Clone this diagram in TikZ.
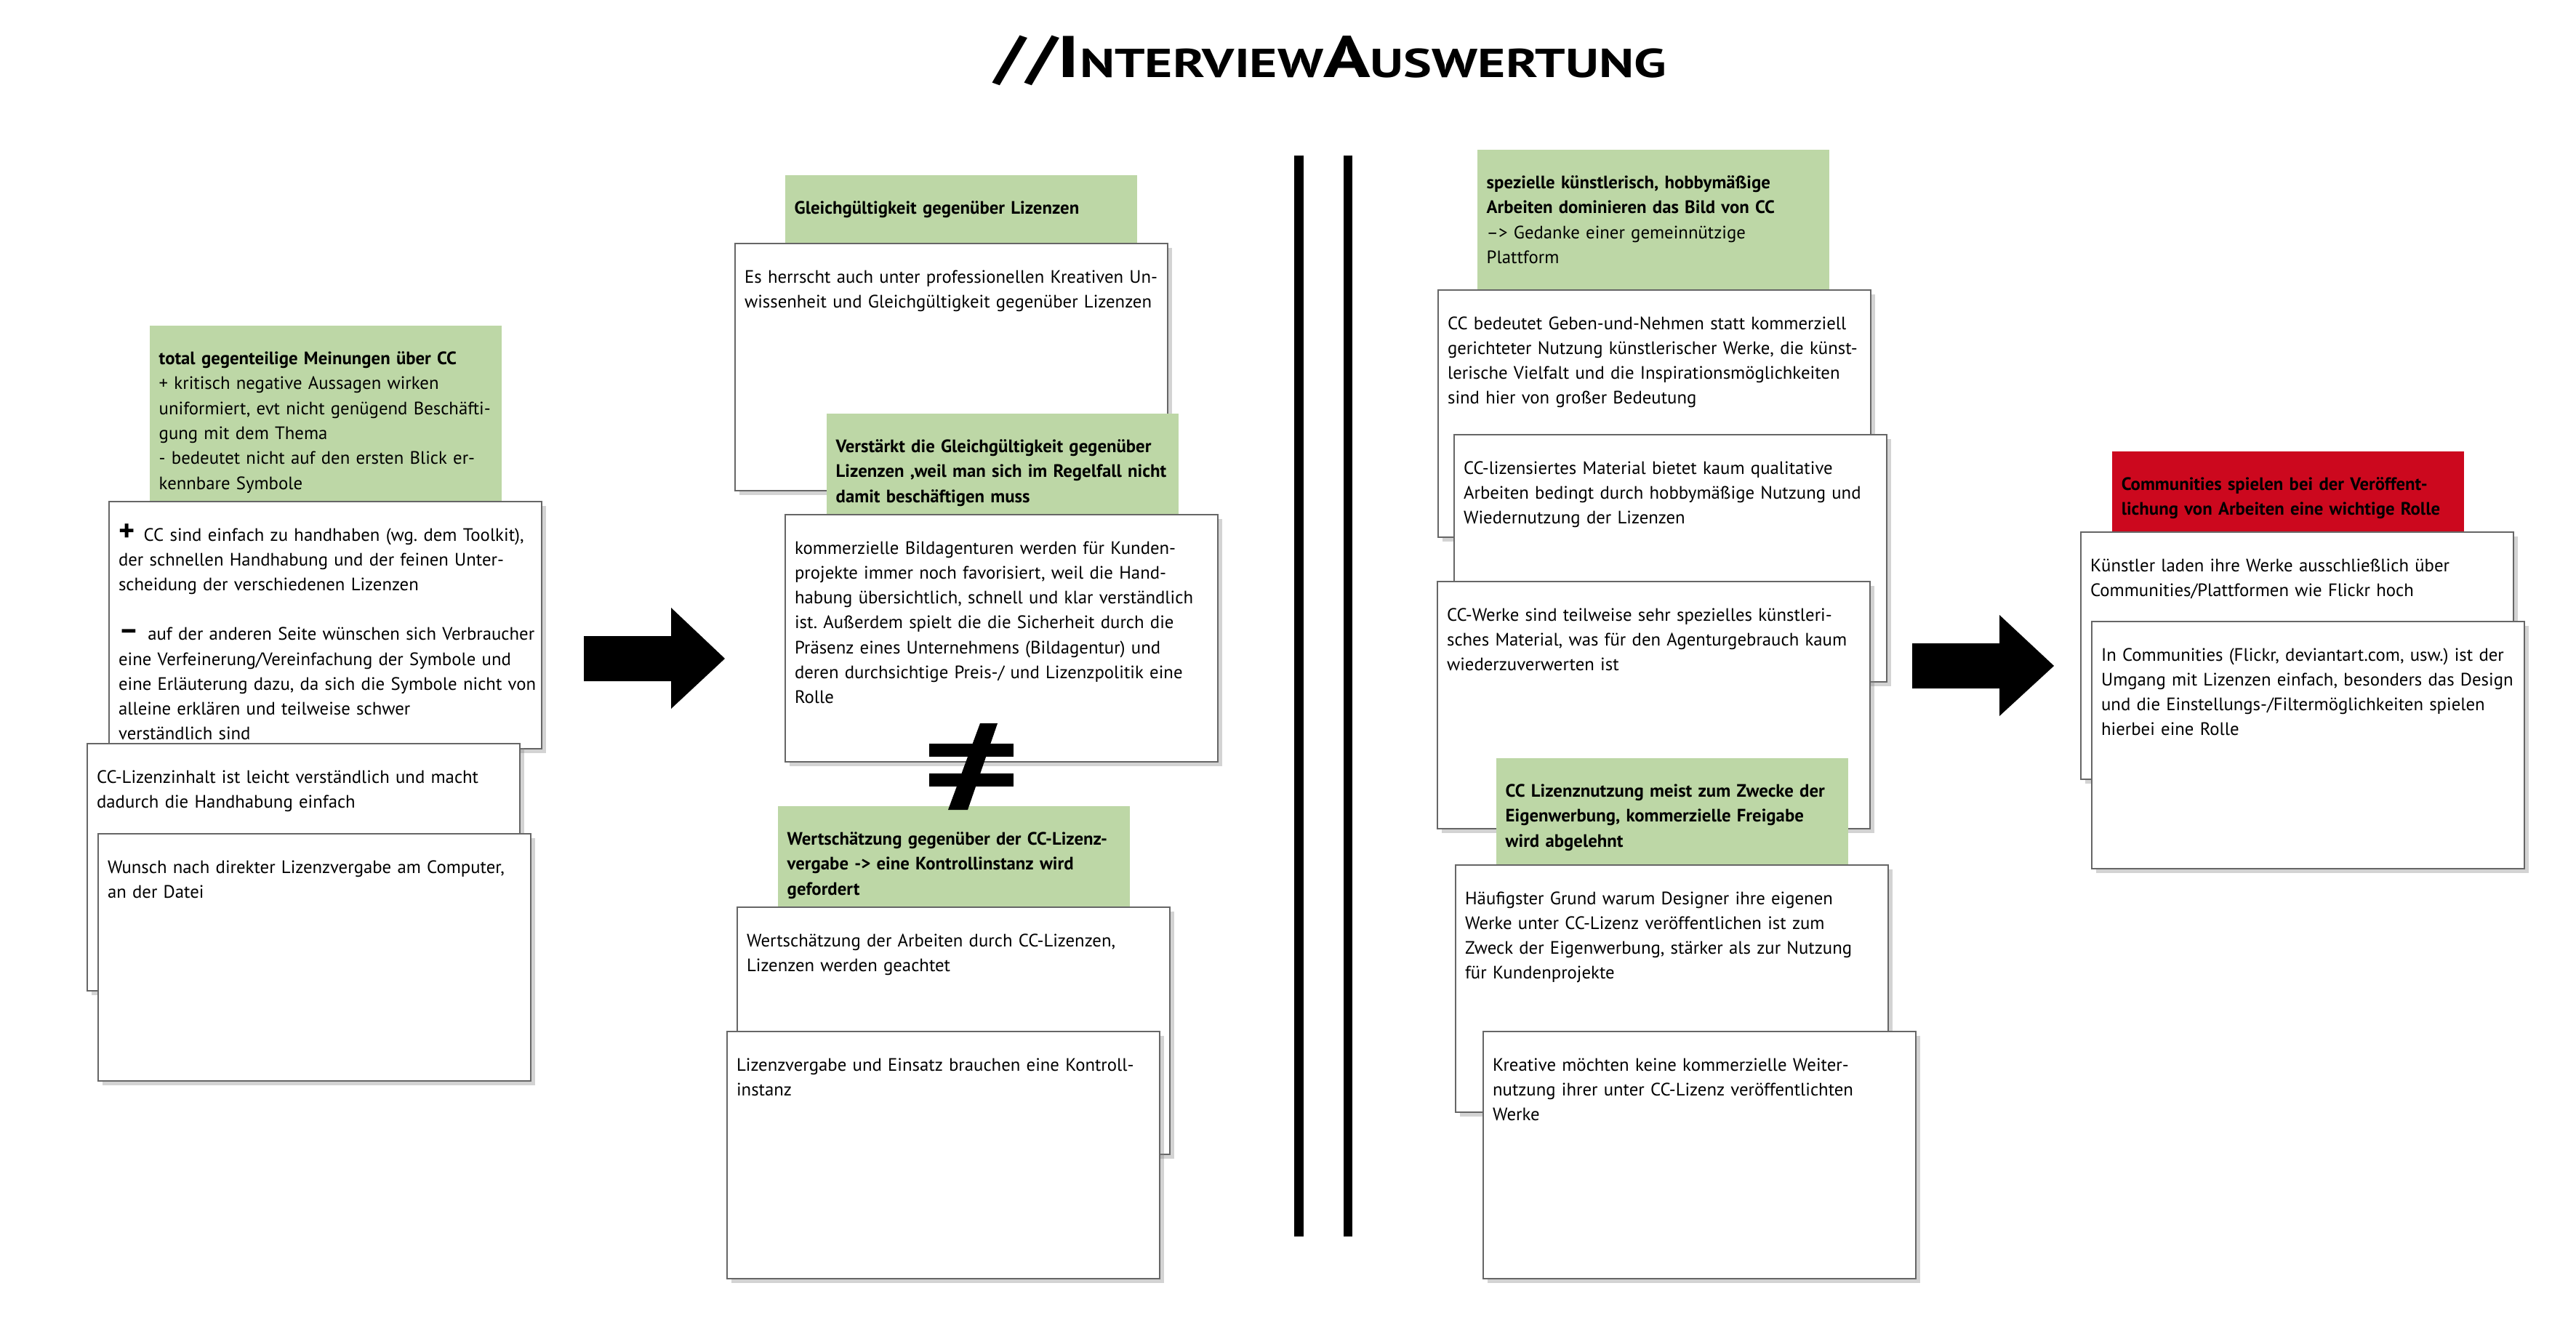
\documentclass[tikz,border=0pt]{standalone}
\usepackage{fontspec}
\setmainfont{PT Sans}
\usetikzlibrary{shadows}
\definecolor{gruenton}{RGB}{189,215,166}
\definecolor{rotton}{RGB}{204,8,30}
\frenchspacing
\newcommand{\kartenfont}{\fontsize{7.05}{9.75}\selectfont}
\newcommand{\zeilen}[1]{\begin{tabular}[t]{@{}l@{}}#1\end{tabular}}
\newcommand{\grossplus}{\smash{\textbf{\fontsize{12}{0}\selectfont +}}\enspace}
\newcommand{\grossminus}{\smash{\textbf{\fontsize{12}{0}\selectfont –}}\enspace}
\tikzset{karte/.style={anchor=north west,rectangle,draw=black!60,line width=0.6pt,
fill=white,drop shadow={shadow xshift=0.06cm,shadow yshift=-0.06cm,opacity=0.35},
text width=5.69cm,inner xsep=0.13cm,inner ysep=0.25cm,
text height=0.29cm,text depth=2.61cm,align=left,font=\kartenfont},
gruen/.style={anchor=north west,rectangle,fill=gruenton,
text width=4.58cm,inner xsep=0.13cm,inner ysep=0.25cm,
text height=0.29cm,text depth=#1,align=left,font=\kartenfont},
rot/.style={gruen=#1,fill=rotton},
balken/.style={line width=1.25mm}}

\begin{document}
\begin{tikzpicture}
\useasboundingbox (0,0) rectangle (35.43,-18.31);
% Titel
\node[anchor=base west,inner sep=0pt,font=\bfseries] (titel) at (13.67,-1.07)
 {\scalebox{1.32}[1]{\fontsize{23}{23}\selectfont //I\fontsize{15.8}{23}\selectfont NTERVIEW\fontsize{23}{23}\selectfont A\fontsize{15.8}{23}\selectfont USWERTUNG}};

% linke Spalte
\node[gruen=1.63cm] (meinung) at (2.05,-4.47) {\zeilen{\textbf{total gegenteilige Meinungen über CC}\\
+ kritisch negative Aussagen wirken\\
uniformiert, evt nicht genügend Beschäfti-\\
gung mit dem Thema\\
- bedeutet nicht auf den ersten Blick er-\\
kennbare Symbole}};
\node[karte] (handhaben) at (1.49,-6.89) {\zeilen{\grossplus CC sind einfach zu handhaben (wg. dem Toolkit),\\
der schnellen Handhabung und der feinen Unter-\\
scheidung der verschiedenen Lizenzen\\[0.34cm]
\grossminus auf der anderen Seite wünschen sich Verbraucher\\
eine Verfeinerung/Vereinfachung der Symbole und\\
eine Erläuterung dazu, da sich die Symbole nicht von\\
alleine erklären und teilweise schwer\\
verständlich sind}};
\node[karte] (inhalt) at (1.19,-10.22) {\zeilen{CC-Lizenzinhalt ist leicht verständlich und macht\\
dadurch die Handhabung einfach}};
\node[karte] (wunsch) at (1.34,-11.46) {\zeilen{Wunsch nach direkter Lizenzvergabe am Computer,\\
an der Datei}};

% Pfeil 1
\fill (8.03,-8.75) -- (9.23,-8.75) -- (9.23,-8.36) -- (9.97,-9.06) -- (9.23,-9.75)
 -- (9.23,-9.37) -- (8.03,-9.37) -- cycle;

% mittlere Spalte
\node[gruen=0.15cm] (gleich) at (10.79,-2.40) {\zeilen{\textbf{Gleichgültigkeit gegenüber Lizenzen}}};
\node[karte] (herrscht) at (10.10,-3.34) {\zeilen{Es herrscht auch unter professionellen Kreativen Un-\\
wissenheit und Gleichgültigkeit gegenüber Lizenzen}};
\node[gruen=0.60cm] (verstaerkt) at (11.36,-5.68) {\zeilen{\textbf{Verstärkt die Gleichgültigkeit gegenüber}\\
\textbf{Lizenzen ,weil man sich im Regelfall nicht}\\
\textbf{damit beschäftigen muss}}};
\node[karte] (agentur) at (10.79,-7.07) {\zeilen{kommerzielle Bildagenturen werden für Kunden-\\
projekte immer noch favorisiert, weil die Hand-\\
habung übersichtlich, schnell und klar verständlich\\
ist. Außerdem spielt die die Sicherheit durch die\\
Präsenz eines Unternehmens (Bildagentur) und\\
deren durchsichtige Preis-/ und Lizenzpolitik eine\\
Rolle}};
\node[gruen=0.59cm] (wert) at (10.69,-11.08) {\zeilen{\textbf{Wertschätzung gegenüber der CC-Lizenz-}\\
\textbf{vergabe -> eine Kontrollinstanz wird}\\
\textbf{gefordert}}};
\node[karte] (geachtet) at (10.13,-12.47) {\zeilen{Wertschätzung der Arbeiten durch CC-Lizenzen,\\
Lizenzen werden geachtet}};
\node[karte] (kontrolle) at (9.99,-14.18) {\zeilen{Lizenzvergabe und Einsatz brauchen eine Kontroll-\\
instanz}};
% Ungleichzeichen
\fill (12.78,-10.23) rectangle (13.94,-10.41);
\fill (12.78,-10.64) rectangle (13.94,-10.82);
\fill (13.48,-9.95) -- (13.72,-9.95) -- (13.31,-11.14) -- (13.04,-11.14) -- cycle;

% Trennlinien
\draw[balken] (17.865,-2.14) -- (17.865,-17.01);
\draw[balken] (18.54,-2.14) -- (18.54,-17.01);

% rechte Spalte
\node[gruen=1.14cm] (speziell) at (20.31,-2.05) {\zeilen{\textbf{spezielle künstlerisch, hobbymäßige}\\
\textbf{Arbeiten dominieren das Bild von CC}\\
--> Gedanke einer gemeinnützige\\
Plattform}};
\node[karte] (geben) at (19.77,-3.98) {\zeilen{CC bedeutet Geben-und-Nehmen statt kommerziell\\
gerichteter Nutzung künstlerischer Werke, die künst-\\
lerische Vielfalt und die Inspirationsmöglichkeiten\\
sind hier von großer Bedeutung}};
\node[karte] (material) at (19.99,-5.97) {\zeilen{CC-lizensiertes Material bietet kaum qualitative\\
Arbeiten bedingt durch hobbymäßige Nutzung und\\
Wiedernutzung der Lizenzen}};
\node[karte] (werke) at (19.76,-7.99) {\zeilen{CC-Werke sind teilweise sehr spezielles künstleri-\\
sches Material, was für den Agenturgebrauch kaum\\
wiederzuverwerten ist}};
\node[gruen=0.68cm] (eigen) at (20.57,-10.42) {\zeilen{\textbf{CC Lizenznutzung meist zum Zwecke der}\\
\textbf{Eigenwerbung, kommerzielle Freigabe}\\
\textbf{wird abgelehnt}}};
\node[karte] (grund) at (20.01,-11.89) {\zeilen{Häufigster Grund warum Designer ihre eigenen\\
Werke unter CC-Lizenz veröffentlichen ist zum\\
Zweck der Eigenwerbung, stärker als zur Nutzung\\
für Kundenprojekte}};
\node[karte] (kreative) at (20.39,-14.18) {\zeilen{Kreative möchten keine kommerzielle Weiter-\\
nutzung ihrer unter CC-Lizenz veröffentlichten\\
Werke}};

% Pfeil 2
\fill (26.30,-8.85) -- (27.50,-8.85) -- (27.50,-8.46) -- (28.25,-9.16) -- (27.50,-9.85)
 -- (27.50,-9.47) -- (26.30,-9.47) -- cycle;

% Communities
\node[rot=0.32cm] (communities) at (29.04,-6.20) {\zeilen{\textbf{Communities spielen bei der Veröffent-}\\
\textbf{lichung von Arbeiten eine wichtige Rolle}}};
\node[karte] (kuenstler) at (28.61,-7.31) {\zeilen{Künstler laden ihre Werke ausschließlich über\\
Communities/Plattformen wie Flickr hoch}};
\node[karte] (umgang) at (28.76,-8.54) {\zeilen{In Communities (Flickr, deviantart.com, usw.) ist der\\
Umgang mit Lizenzen einfach, besonders das Design\\
und die Einstellungs-/Filtermöglichkeiten spielen\\
hierbei eine Rolle}};
\end{tikzpicture}
\end{document}
